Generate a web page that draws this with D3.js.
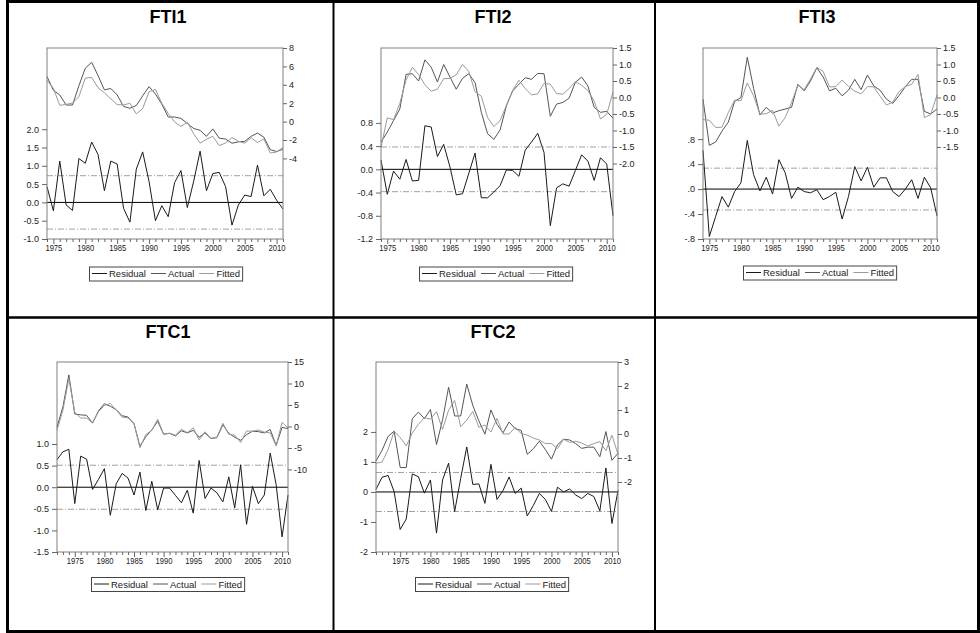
<!DOCTYPE html>
<html>
<head>
<meta charset="utf-8">
<script src="https://cdn.jsdelivr.net/npm/d3@7"></script>
<style>
body { margin: 0; background: #fff; }
svg { display: block; font-family: Arial, "Liberation Sans", sans-serif; }
</style>
</head>
<body>
<svg id="chart" width="980" height="633"></svg>
<script>
// ---- data ----
var yearTicks = [1975, 1980, 1985, 1990, 1995, 2000, 2005, 2010];
var legendNames = ['Residual', 'Actual', 'Fitted'];

// FTI1, 1974-2011
var fti1Start = 1974;
var fti1Residual = [0.43, -0.23, 1.13, -0.07, -0.22, 1.20, 1.07, 1.65, 1.31, 0.32, 1.13, 1.05, -0.16, -0.54, 0.91, 1.38, 0.57, -0.50, -0.09, -0.39, 0.54, 0.87, -0.14, 0.58, 1.40, 0.32, 0.79, 0.82, 0.43, -0.62, -0.07, 0.20, 0.16, 1.02, 0.18, 0.36, 0.06, -0.18];
var fti1Actual = [4.9, 3.4, 2.9, 1.8, 1.8, 3.9, 5.8, 6.45, 5.0, 3.45, 3.6, 2.9, 1.65, 1.45, 1.75, 2.8, 3.8, 3.0, 1.9, 0.5, 0.5, 0.35, -0.2, -0.75, -0.95, -1.6, -0.8, -1.8, -1.9, -2.35, -2.2, -2.15, -1.6, -1.25, -1.7, -3.05, -3.25, -3.0];
var fti1Fitted = [4.47, 3.63, 1.77, 1.87, 2.02, 2.7, 4.73, 4.8, 3.69, 3.13, 2.47, 1.85, 1.81, 1.99, 0.84, 1.42, 3.23, 3.5, 1.99, 0.89, -0.04, -0.52, -0.06, -1.33, -2.35, -1.92, -1.6, -2.6, -2.33, -1.73, -2.13, -2.35, -1.76, -2.27, -1.88, -3.41, -3.31, -2.82];
var fti1LeftTicks = [-1.0, -0.5, 0.0, 0.5, 1.0, 1.5, 2.0];
var fti1RightTicks = [-4, -2, 0, 2, 4, 6, 8];

// FTI2, 1974-2011
var fti2Start = 1974;
var fti2Residual = [0.16, -0.43, -0.03, -0.17, 0.17, -0.20, -0.19, 0.75, 0.73, 0.22, 0.43, 0.04, -0.44, -0.42, -0.07, 0.28, -0.49, -0.49, -0.39, -0.28, -0.01, -0.02, -0.12, 0.33, 0.47, 0.62, 0.29, -0.97, -0.32, -0.25, -0.29, -0.02, 0.25, 0.14, -0.19, 0.20, 0.09, -0.80];
var fti2Actual = [-1.35, -1.05, -0.7, -0.35, 0.7, 0.72, 0.5, 1.14, 0.92, 0.47, 1.0, 0.62, 0.25, 0.58, 0.72, 0.45, -0.45, -1.1, -1.27, -0.98, -0.25, 0.2, 0.4, 0.6, 0.55, 0.73, 0.72, -0.57, -0.2, -0.15, -0.02, 0.46, 0.62, 0.35, -0.3, -0.45, -0.42, -0.63];
var fti2Fitted = [-1.51, -0.62, -0.67, -0.18, 0.53, 0.92, 0.69, 0.39, 0.19, 0.25, 0.57, 0.58, 0.69, 1.0, 0.79, 0.17, 0.04, -0.61, -0.88, -0.7, -0.24, 0.22, 0.52, 0.27, 0.08, 0.11, 0.43, 0.4, 0.12, 0.1, 0.27, 0.48, 0.37, 0.21, -0.11, -0.65, -0.51, 0.17];
var fti2LeftTicks = [-1.2, -0.8, -0.4, 0.0, 0.4, 0.8];
var fti2RightTicks = [-2.0, -1.5, -1.0, -0.5, 0.0, 0.5, 1.0, 1.5];

// FTI3, 1974-2011
var fti3Start = 1974;
var fti3Residual = [0.62, -0.76, -0.44, -0.12, -0.29, -0.04, 0.10, 0.78, 0.23, -0.03, 0.19, -0.08, 0.47, 0.26, -0.15, 0.03, -0.04, -0.06, -0.01, -0.17, -0.12, -0.05, -0.48, -0.12, 0.36, 0.13, 0.35, 0.03, 0.18, 0.18, -0.04, -0.12, 0.00, 0.15, -0.15, 0.19, 0.02, -0.43];
var fti3Actual = [-0.05, -1.45, -1.35, -1.02, -0.75, -0.12, 0.0, 1.22, 0.28, -0.53, -0.3, -0.47, -0.4, -0.35, -0.3, 0.4, 0.2, 0.5, 0.9, 0.62, 0.2, 0.28, 0.05, 0.22, 0.55, 0.24, 0.68, 0.35, 0.22, -0.05, -0.18, 0.06, 0.33, 0.55, 0.55, -0.42, -0.5, -0.35];
var fti3Fitted = [-0.67, -0.69, -0.91, -0.9, -0.46, -0.08, -0.1, 0.44, 0.05, -0.5, -0.49, -0.39, -0.87, -0.61, -0.15, 0.37, 0.24, 0.56, 0.91, 0.79, 0.32, 0.33, 0.53, 0.34, 0.19, 0.11, 0.33, 0.32, 0.04, -0.23, -0.14, 0.18, 0.33, 0.4, 0.7, -0.61, -0.52, 0.08];
var fti3LeftTicks = [-0.8, -0.4, 0.0, 0.4, 0.8];
var fti3RightTicks = [-1.5, -1.0, -0.5, 0.0, 0.5, 1.0, 1.5];

// FTC1, 1972-2011
var ftc1Start = 1972;
var ftc1Residual = [0.64, 0.82, 0.88, -0.38, 0.72, 0.65, -0.05, 0.18, 0.43, -0.65, 0.08, 0.32, 0.21, -0.18, 0.35, -0.54, 0.14, -0.52, -0.02, -0.02, -0.19, -0.36, -0.07, -0.60, 0.62, -0.26, -0.02, -0.13, -0.34, 0.24, -0.48, 0.52, -0.86, 0.02, -0.38, -0.18, 0.79, 0.06, -1.15, -0.18];
var ftc1Actual = [-0.2, 4.6, 12.0, 2.9, 2.7, 2.6, 0.8, 3.6, 5.3, 4.7, 3.9, 2.5, 2.2, 0.6, -4.6, -2.4, -0.8, 1.2, -1.8, -1.6, -2.2, -1.0, -1.5, -0.9, -2.5, -1.5, -2.8, -2.6, 0.4, -1.6, -2.5, -3.2, -1.9, -1.1, -1.2, -1.5, -0.7, -4.4, -0.2, -0.5];
var ftc1Fitted = [-0.84, 3.78, 11.12, 3.28, 1.98, 1.95, 0.85, 3.42, 4.87, 5.35, 3.82, 2.18, 1.99, 0.78, -4.95, -1.86, -0.94, 1.72, -1.78, -1.58, -2.01, -0.64, -1.43, -0.3, -3.12, -1.24, -2.78, -2.47, 0.74, -1.84, -2.02, -3.72, -1.04, -1.12, -0.82, -1.32, -1.49, -4.46, 0.95, -0.32];
var ftc1LeftTicks = [-1.5, -1.0, -0.5, 0.0, 0.5, 1.0];
var ftc1RightTicks = [-10, -5, 0, 5, 10, 15];

// FTC2, 1971-2011
var ftc2Start = 1971;
var ftc2Residual = [0.09, 0.49, 0.55, 0.01, -1.25, -0.90, 0.60, 0.51, -0.04, 0.40, -1.37, 0.40, 0.96, -0.65, 0.45, 1.50, 0.25, 0.27, -0.38, 0.92, -0.25, 0.05, 0.50, -0.05, 0.13, -0.80, -0.45, -0.05, -0.25, -0.65, 0.16, 0.00, 0.10, -0.10, -0.22, -0.05, -0.15, -0.63, 0.80, -1.05, 0.05];
var ftc2Actual = [-1.13, -0.68, -0.1, 0.12, -1.4, -1.4, 0.64, 0.91, 0.64, 1.02, -0.44, 0.59, 1.95, 0.75, 0.75, 2.08, 1.19, 0.55, -0.01, 1.0, 0.4, 0.05, 0.5, 0.22, 0.15, -0.85, -0.62, -0.3, -0.65, -1.05, -0.45, -0.22, -0.25, -0.4, -0.6, -0.55, -0.55, -0.95, 0.1, -1.1, -0.8];
var ftc2Fitted = [-1.22, -1.17, -0.65, 0.11, -0.15, -0.5, 0.04, 0.4, 0.68, 0.62, 0.93, 0.19, 0.99, 1.4, 0.3, 0.58, 0.94, 0.28, 0.37, 0.08, 0.65, 0.0, 0.0, 0.27, 0.02, -0.05, -0.17, -0.25, -0.4, -0.4, -0.61, -0.22, -0.35, -0.3, -0.38, -0.5, -0.4, -0.32, -0.7, -0.05, -0.85];
var ftc2LeftTicks = [-2, -1, 0, 1, 2];
var ftc2RightTicks = [-2, -1, 0, 1, 2, 3];

// ---- layout ----
var residualColor = '#1a1a1a', actualColor = '#555555', fittedColor = '#9a9a9a';

var loc = d3.formatLocale({decimal: '.', thousands: ',', grouping: [3], currency: ['', ''], minus: '-'});
var f1 = loc.format('.1f');
var formats = {
    dec: f1,
    short: function (d) { return f1(d).replace(/^(-?)0\./, '$1.'); },
    int: loc.format('d')
};

var panels = [
    {title: 'FTI1', start: fti1Start, residual: fti1Residual, actual: fti1Actual, fitted: fti1Fitted,
     leftTicks: fti1LeftTicks, rightTicks: fti1RightTicks, leftFmt: 'dec', rightFmt: 'int', sigma: 0.73,
     box: [47, 48, 283, 239], left: [-1.0, 4.22], right: [-12.76, 8], titleX: 168, titleY: 23, legendX: 166, legendY: 266.5},
    {title: 'FTI2', start: fti2Start, residual: fti2Residual, actual: fti2Actual, fitted: fti2Fitted,
     leftTicks: fti2LeftTicks, rightTicks: fti2RightTicks, leftFmt: 'dec', rightFmt: 'dec', sigma: 0.385,
     box: [381, 48, 613, 239], left: [-1.2, 2.09], right: [-4.29, 1.5], titleX: 493, titleY: 23, legendX: 496, legendY: 266.5},
    {title: 'FTI3', start: fti3Start, residual: fti3Residual, actual: fti3Actual, fitted: fti3Fitted,
     leftTicks: fti3LeftTicks, rightTicks: fti3RightTicks, leftFmt: 'short', rightFmt: 'dec', sigma: 0.335,
     box: [703, 48, 937, 239], left: [-0.8, 2.26], right: [-4.29, 1.5], titleX: 817, titleY: 23, legendX: 820, legendY: 265.5},
    {title: 'FTC1', start: ftc1Start, residual: ftc1Residual, actual: ftc1Actual, fitted: ftc1Fitted,
     leftTicks: ftc1LeftTicks, rightTicks: ftc1RightTicks, leftFmt: 'dec', rightFmt: 'int', sigma: 0.51,
     box: [57, 362, 288, 552], left: [-1.5, 2.9], right: [-29.2, 15], titleX: 168, titleY: 338, legendX: 168, legendY: 577},
    {title: 'FTC2', start: ftc2Start, residual: ftc2Residual, actual: ftc2Actual, fitted: ftc2Fitted,
     leftTicks: ftc2LeftTicks, rightTicks: ftc2RightTicks, leftFmt: 'int', rightFmt: 'int', sigma: 0.65,
     box: [376, 362, 618, 552], left: [-2, 4.33], right: [-4.92, 3], titleX: 493, titleY: 338, legendX: 492, legendY: 577}
];

var svg = d3.select('#chart');
svg.append('rect').attr('width', 980).attr('height', 633).attr('fill', '#fff');

function styleAxis(sel) {
    sel.select('.domain').remove();
    sel.selectAll('.tick line').attr('stroke', '#666');
    sel.selectAll('.tick text').attr('fill', '#222');
    sel.attr('font-size', 9).attr('font-family', 'Arial, "Liberation Sans", sans-serif');
}

function drawPanel(p) {
    var n = p.residual.length;
    var years = d3.range(p.start, p.start + n);
    var x = d3.scaleLinear().domain([p.start, p.start + n - 1]).range([p.box[0], p.box[2]]);
    var yL = d3.scaleLinear().domain(p.left).range([p.box[3], p.box[1]]);
    var yR = d3.scaleLinear().domain(p.right).range([p.box[3], p.box[1]]);
    var g = svg.append('g').attr('class', 'panel');

    g.append('text')
        .attr('x', p.titleX).attr('y', p.titleY)
        .attr('text-anchor', 'middle')
        .attr('font-size', 18).attr('font-weight', 'bold')
        .text(p.title);

    // +/- 1 s.e. bands and zero line
    [p.sigma, -p.sigma].forEach(function (s) {
        g.append('line')
            .attr('x1', p.box[0]).attr('x2', p.box[2])
            .attr('y1', yL(s)).attr('y2', yL(s))
            .attr('stroke', '#a0a0a0').attr('stroke-width', 1)
            .attr('stroke-dasharray', '6,2,1,2');
    });
    g.append('line')
        .attr('x1', p.box[0]).attr('x2', p.box[2])
        .attr('y1', yL(0)).attr('y2', yL(0))
        .attr('stroke', '#000').attr('stroke-width', 1);

    var lineL = d3.line().x(function (d, i) { return x(years[i]); }).y(function (d) { return yL(d); });
    var lineR = d3.line().x(function (d, i) { return x(years[i]); }).y(function (d) { return yR(d); });

    g.append('path').datum(p.residual).attr('d', lineL)
        .attr('fill', 'none').attr('stroke', residualColor).attr('stroke-width', 1);
    g.append('path').datum(p.actual).attr('d', lineR)
        .attr('fill', 'none').attr('stroke', actualColor).attr('stroke-width', 1);
    g.append('path').datum(p.fitted).attr('d', lineR)
        .attr('fill', 'none').attr('stroke', fittedColor).attr('stroke-width', 1);

    g.append('rect')
        .attr('x', p.box[0]).attr('y', p.box[1])
        .attr('width', p.box[2] - p.box[0]).attr('height', p.box[3] - p.box[1])
        .attr('fill', 'none').attr('stroke', '#808080').attr('stroke-width', 1);

    g.append('g').attr('transform', 'translate(' + p.box[0] + ',0)')
        .call(d3.axisLeft(yL).tickValues(p.leftTicks).tickSize(5).tickSizeOuter(0).tickPadding(3).tickFormat(formats[p.leftFmt]))
        .call(styleAxis);
    g.append('g').attr('transform', 'translate(' + p.box[2] + ',0)')
        .call(d3.axisRight(yR).tickValues(p.rightTicks).tickSize(4).tickSizeOuter(0).tickPadding(2).tickFormat(formats[p.rightFmt]))
        .call(styleAxis);

    var xAxis = g.append('g').attr('transform', 'translate(0,' + p.box[3] + ')')
        .call(d3.axisBottom(x).tickValues(years).tickSize(3).tickSizeOuter(0).tickPadding(3)
            .tickFormat(function (d) { return yearTicks.indexOf(d) >= 0 ? String(d) : ''; }))
        .call(styleAxis);
    xAxis.selectAll('.tick').filter(function (d) { return yearTicks.indexOf(d) >= 0; })
        .select('line').attr('y2', 5);
    xAxis.selectAll('.tick text').filter(function (d) { return yearTicks.indexOf(d) >= 0; })
        .attr('textLength', 17).attr('lengthAdjust', 'spacingAndGlyphs');

    // legend
    var lg = g.append('g');
    var colors = [residualColor, actualColor, fittedColor];
    var cx = 3;
    legendNames.forEach(function (name, i) {
        lg.append('line')
            .attr('x1', cx).attr('x2', cx + 15)
            .attr('y1', 7).attr('y2', 7)
            .attr('stroke', colors[i]).attr('stroke-width', 1);
        var t = lg.append('text')
            .attr('x', cx + 17).attr('y', 10.5)
            .attr('font-size', 9.5).attr('fill', '#222')
            .text(name);
        cx += 17 + t.node().getComputedTextLength() + 5;
    });
    var w = cx - 3;
    lg.insert('rect', ':first-child')
        .attr('x', 0.5).attr('y', 0.5)
        .attr('width', w).attr('height', 14)
        .attr('fill', '#fff').attr('stroke', '#444').attr('stroke-width', 1);
    lg.attr('transform', 'translate(' + Math.round(p.legendX - w / 2) + ',' + p.legendY + ')');
}

panels.forEach(drawPanel);

// table grid
var grid = svg.append('g').attr('fill', 'none').attr('stroke', '#000');
grid.append('rect').attr('x', 7.5).attr('y', 1.5).attr('width', 971).attr('height', 630).attr('stroke-width', 3);
grid.append('line').attr('x1', 7).attr('x2', 979).attr('y1', 317.5).attr('y2', 317.5).attr('stroke-width', 2.5);
grid.append('line').attr('x1', 333.5).attr('x2', 333.5).attr('y1', 1).attr('y2', 632).attr('stroke-width', 2);
grid.append('line').attr('x1', 655).attr('x2', 655).attr('y1', 1).attr('y2', 632).attr('stroke-width', 2);
</script>
</body>
</html>
